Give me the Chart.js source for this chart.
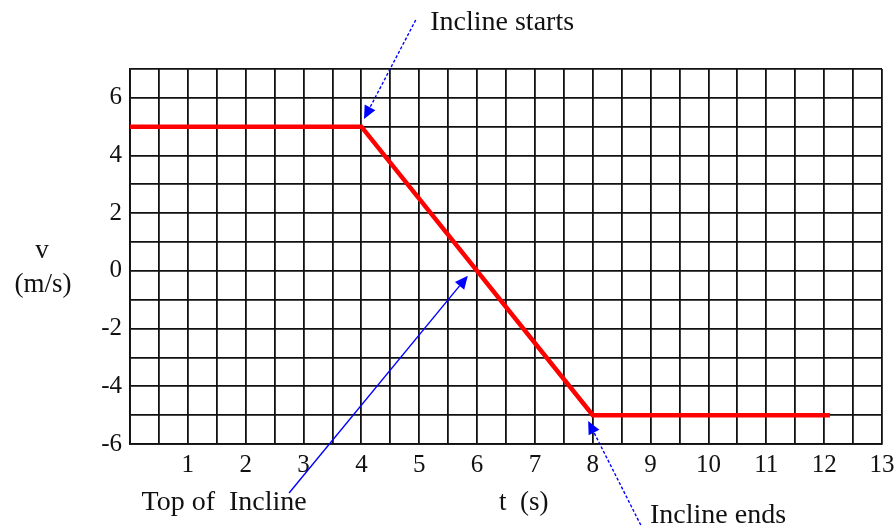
<!DOCTYPE html>
<html>
<head>
<meta charset="utf-8">
<script src="https://cdn.jsdelivr.net/npm/chart.js@4/dist/chart.umd.min.js"></script>
<style>
  body { margin: 0; background: #fff; }
  #wrap { width: 894px; height: 527px; position: relative; }
</style>
</head>
<body>
<div id="wrap"><canvas id="vt"></canvas></div>
<script>
// velocity vs time over the incline
const tSeconds = [0, 4, 8, 12.1];
const velocity = [5, 5, -5, -5];
const xLabels = [1, 2, 3, 4, 5, 6, 7, 8, 9, 10, 11, 12, 13];
const yLabels = [-6, -4, -2, 0, 2, 4, 6];

// callouts: text, where the text sits, arrow tail and tip (data units)
const notes = [
    { text: 'Incline starts', at: [5.19, 8.35], from: [4.94, 8.70], to: [4.045, 5.27], dash: [3, 2] },
    { text: 'Top of  Incline', at: [0.2, -8.29], from: [2.75, -7.70], to: [5.84, -0.17], dash: [] },
    { text: 'Incline ends', at: [8.99, -8.73], from: [8.83, -8.81], to: [7.92, -5.2], dash: [3, 2] }
];

Chart.defaults.font.family = '"Liberation Serif", "Times New Roman", serif';
Chart.defaults.color = '#111';

const serif = '"Liberation Serif", "Times New Roman", serif';

const callouts = {
    id: 'callouts',
    afterDraw(chart) {
        const ctx = chart.ctx;
        const sx = chart.scales.x, sy = chart.scales.y;
        const px = p => [sx.getPixelForValue(p[0]), sy.getPixelForValue(p[1])];
        ctx.save();
        notes.forEach(n => {
            const [x0, y0] = px(n.from);
            const [x1, y1] = px(n.to);
            const ang = Math.atan2(y1 - y0, x1 - x0);
            const head = 13, half = 6;
            const bx = x1 - head * Math.cos(ang), by = y1 - head * Math.sin(ang);
            ctx.strokeStyle = '#0000ff';
            ctx.lineWidth = 1.4;
            ctx.setLineDash(n.dash);
            ctx.beginPath();
            ctx.moveTo(x0, y0);
            ctx.lineTo(bx, by);
            ctx.stroke();
            ctx.setLineDash([]);
            ctx.fillStyle = '#0000ff';
            ctx.beginPath();
            ctx.moveTo(x1, y1);
            ctx.lineTo(bx + half * Math.sin(ang), by - half * Math.cos(ang));
            ctx.lineTo(bx - half * Math.sin(ang), by + half * Math.cos(ang));
            ctx.closePath();
            ctx.fill();

            const [tx, ty] = px(n.at);
            ctx.fillStyle = '#111';
            ctx.font = '28px ' + serif;
            ctx.textAlign = 'left';
            ctx.textBaseline = 'alphabetic';
            ctx.fillText(n.text, tx, ty);
        });

        // axis titles
        ctx.font = '27px ' + serif;
        ctx.fillStyle = '#111';
        ctx.textAlign = 'center';
        ctx.textBaseline = 'alphabetic';
        ctx.fillText('v', 42, 258);
        ctx.fillText('(m/s)', 43, 292);
        ctx.textAlign = 'left';
        ctx.fillText('t  (s)', 499, 510);
        ctx.restore();
    }
};

new Chart(document.getElementById('vt'), {
    type: 'scatter',
    data: {
        datasets: [{
            data: tSeconds.map((t, i) => ({ x: t, y: velocity[i] })),
            showLine: true,
            borderColor: '#ff0000',
            borderWidth: 4.5,
            pointRadius: 0,
            tension: 0
        }]
    },
    options: {
        responsive: true,
        maintainAspectRatio: false,
        animation: false,
        layout: { padding: { top: 69, right: 12, left: 0, bottom: 0 } },
        plugins: {
            legend: { display: false },
            tooltip: { enabled: false }
        },
        scales: {
            x: {
                type: 'linear',
                min: 0,
                max: 13,
                afterFit: s => { s.height = 83; s.paddingLeft = 0; s.paddingRight = 0; },
                grid: { color: '#111', lineWidth: 1.8, drawTicks: false },
                border: { color: '#111', width: 1.8 },
                ticks: {
                    stepSize: 0.5,
                    autoSkip: false,
                    maxRotation: 0,
                    padding: 6,
                    font: { size: 25 },
                    callback: v => xLabels.includes(v) ? String(v) : ''
                }
            },
            y: {
                min: -6,
                max: 7,
                afterFit: s => { s.width = 130; s.paddingTop = 0; s.paddingBottom = 0; },
                grid: { color: '#111', lineWidth: 1.8, drawTicks: false },
                border: { color: '#111', width: 1.8 },
                ticks: {
                    stepSize: 1,
                    autoSkip: false,
                    padding: 8,
                    font: { size: 25 },
                    callback: v => yLabels.includes(v) ? String(v) : ''
                }
            }
        }
    },
    plugins: [callouts]
});
</script>
</body>
</html>
